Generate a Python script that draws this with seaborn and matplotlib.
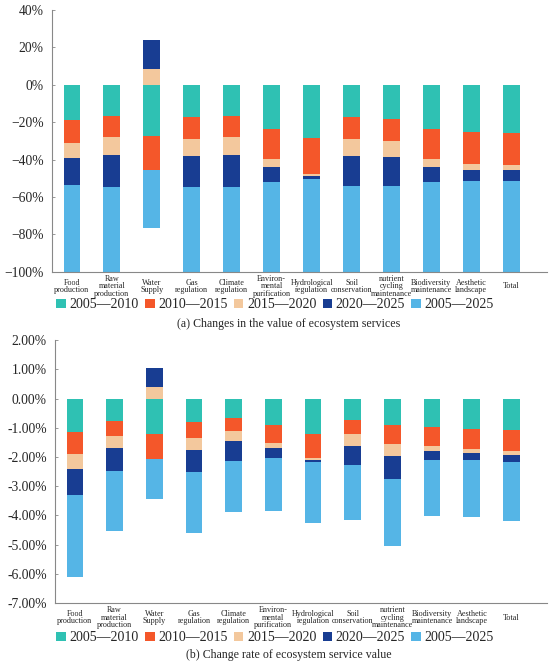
import numpy as np
import matplotlib
matplotlib.use("Agg")
import matplotlib.pyplot as plt
import seaborn as sns
from matplotlib.ticker import FuncFormatter, MultipleLocator

# categories (x axis)
services = ["Food\nproduction", "Raw\nmaterial\nproduction", "Water\nSupply",
            "Gas\nregulation", "Climate\nregulation", "Environ-\nmental\npurification",
            "Hydrological\nregulation", "Soil\nconservation", "nutrient\ncycling\nmaintenance",
            "Biodiversity\nmaintenance", "Aesthetic\nlandscape", "Total"]
periods = ["2005\u20142010", "2010\u20142015", "2015\u20142020", "2020\u20142025", "2005\u20142025"]

# (a) changes in value (%)
val_0510 = [-18.7, -16.9, -27.5, -17.2, -16.5, -23.6, -28.4, -17.4, -18.5, -23.6, -25.0, -25.6]
val_1015 = [-12.4, -11.0, -18.3, -11.7, -11.4, -16.0, -19.2, -11.5, -11.7, -16.0, -17.1, -17.1]
val_1520 = [-8.3, -9.8, 8.5, -9.2, -9.4, -4.3, -1.2, -9.1, -8.5, -4.3, -3.2, -3.0]
val_2025 = [-14.2, -17.1, 15.5, -16.3, -17.4, -8.2, -1.4, -16.2, -15.3, -8.2, -6.2, -5.9]
val_0525 = [-46.4, -45.3, -30.6, -45.5, -45.3, -48.0, -49.7, -45.8, -46.0, -48.0, -48.5, -48.5]

# (b) change rate (%)
rate_0510 = [-1.14, -0.76, -1.23, -0.81, -0.65, -0.92, -1.22, -0.73, -0.91, -0.97, -1.04, -1.07]
rate_1015 = [-0.77, -0.51, -0.83, -0.53, -0.46, -0.61, -0.83, -0.50, -0.63, -0.65, -0.69, -0.73]
rate_1520 = [-0.51, -0.43, 0.38, -0.42, -0.35, -0.17, -0.06, -0.38, -0.43, -0.17, -0.15, -0.14]
rate_2025 = [-0.89, -0.77, 0.68, -0.77, -0.68, -0.33, -0.07, -0.68, -0.77, -0.33, -0.24, -0.23]
rate_0525 = [-2.79, -2.05, -1.38, -2.07, -1.74, -1.83, -2.09, -1.88, -2.32, -1.90, -1.95, -2.01]

colors = ["#2FC1B3", "#F4572A", "#F3C89D", "#183D92", "#55B5E6"]

sns.set_theme(style="ticks")
plt.rcParams["font.family"] = ["Liberation Serif", "DejaVu Serif"]

fig = plt.figure(figsize=(5.5, 6.63), dpi=100)
ax_a = fig.add_axes([0.0945, 0.590, 0.9005, 0.395])
ax_b = fig.add_axes([0.100, 0.0905, 0.895, 0.3965])


def stacked(ax, series):
    x = np.arange(len(services))
    pos = np.zeros(len(services))
    neg = np.zeros(len(services))
    handles = []
    for vals, col, lab in zip(series, colors, periods):
        vals = np.array(vals)
        base = np.where(vals >= 0, pos, neg)
        h = ax.bar(x, vals, bottom=base, width=0.42, color=col, label=lab, linewidth=0)
        pos = pos + np.where(vals >= 0, vals, 0)
        neg = neg + np.where(vals < 0, vals, 0)
        handles.append(h)
    ax.set_xlim(-0.5, 11.9)
    ax.set_xticks(x)
    ax.set_xticklabels(services, fontsize=5.9, linespacing=0.85)
    for t in ax.get_xticklabels():
        t.set_va("center")
    ax.tick_params(axis="x", length=0, pad=10.5)
    ax.tick_params(axis="y", direction="in", length=2.5, width=0.6, color="#888888",
                   labelsize=9.8, pad=6)
    for s in ["top", "right"]:
        ax.spines[s].set_visible(False)
    for s in ["left", "bottom"]:
        ax.spines[s].set_color("#888888")
        ax.spines[s].set_linewidth(0.8)
    return handles


h = stacked(ax_a, [val_0510, val_1015, val_1520, val_2025, val_0525])
ax_a.set_ylim(-100, 40)
ax_a.yaxis.set_major_locator(MultipleLocator(20))
ax_a.yaxis.set_major_formatter(FuncFormatter(lambda v, p: f"{v:.0f}%".replace("-", "\u2212")))

stacked(ax_b, [rate_0510, rate_1015, rate_1520, rate_2025, rate_0525])
ax_b.set_ylim(-7, 2)
ax_b.yaxis.set_major_locator(MultipleLocator(1))
ax_b.yaxis.set_major_formatter(FuncFormatter(lambda v, p: f"{v:.2f}%".replace("-0.00", "0.00")))

leg_kw = dict(ncol=5, frameon=False, fontsize=10, handlelength=0.7, handleheight=0.7,
              handletextpad=0.25, columnspacing=0.45, borderaxespad=0)
fig.legend(handles=h, labels=periods, loc="center", bbox_to_anchor=(0.50, 0.540), **leg_kw)
fig.legend(handles=h, labels=periods, loc="center", bbox_to_anchor=(0.50, 0.038), **leg_kw)

fig.text(0.525, 0.511, "(a) Changes in the value of ecosystem services", ha="center", va="center", fontsize=8.6)
fig.text(0.525, 0.012, "(b) Change rate of ecosystem service value", ha="center", va="center", fontsize=8.6)

fig.savefig("out.png", dpi=100)
